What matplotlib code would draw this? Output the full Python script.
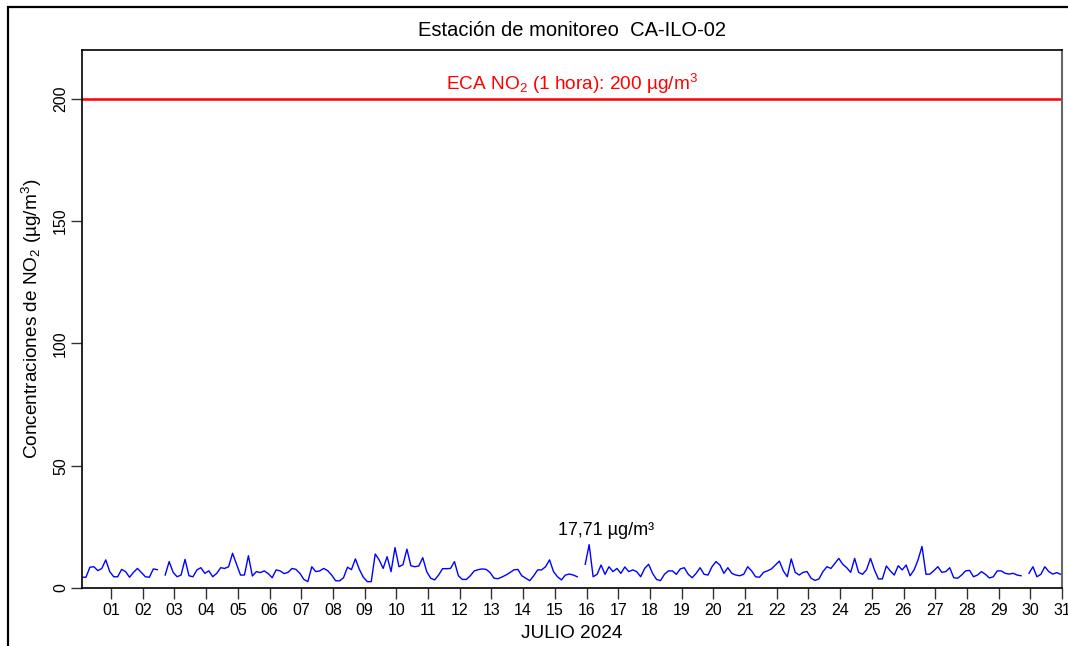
import numpy as np
import matplotlib
matplotlib.use("Agg")
import matplotlib.pyplot as plt
import matplotlib.transforms as mtransforms
from matplotlib.patches import Rectangle

plt.rcParams['font.family'] = ['Liberation Sans', 'DejaVu Sans']
plt.rcParams['mathtext.fontset'] = 'custom'
plt.rcParams['mathtext.rm'] = 'Liberation Sans'
plt.rcParams['mathtext.it'] = 'Liberation Sans:italic'
plt.rcParams['mathtext.bf'] = 'Liberation Sans:bold'

# ---- data: NO2 concentrations (ug/m3), 3-hourly readings, July 2024 ----
nan = np.nan
no2 = [
    4.4, 4.4, 8.5, 8.7, 7.1, 8.0, 11.5, 6.7,
    4.6, 4.6, 7.6, 6.7, 4.4, 6.4, 8.0, 6.3,
    4.6, 4.4, 7.8, 7.5, nan, 5.3, 10.8, 6.4,
    4.6, 5.3, 11.7, 5.0, 4.6, 7.4, 8.3, 6.0,
    7.0, 4.6, 6.0, 8.3, 8.0, 8.7, 14.2, 9.7,
    5.3, 5.3, 13.2, 4.9, 6.7, 6.3, 7.0, 5.9,
    4.2, 7.4, 7.0, 5.9, 6.4, 8.0, 7.6, 6.0,
    3.5, 2.6, 8.7, 6.7, 7.0, 8.0, 7.1, 5.3,
    3.0, 2.9, 4.2, 8.5, 7.5, 11.9, 7.6, 4.4,
    2.6, 2.6, 13.9, 11.5, 8.0, 12.8, 6.7, 16.5,
    8.7, 9.5, 15.9, 9.1, 8.7, 9.0, 12.4, 6.7,
    4.0, 3.3, 5.3, 7.9, 7.9, 8.0, 10.8, 5.0,
    3.5, 3.5, 5.0, 7.0, 7.5, 7.8, 7.6, 6.3,
    4.0, 3.8, 4.5, 5.3, 6.3, 7.4, 7.6, 5.0,
    4.0, 3.0, 5.0, 7.4, 7.4, 8.7, 11.5, 6.7,
    4.6, 3.3, 5.3, 5.7, 5.3, 4.6, nan, 9.7,
    17.71, 4.6, 5.6, 9.4, 5.6, 8.7, 6.7, 8.0,
    6.0, 8.6, 6.7, 7.4, 6.7, 4.6, 8.0, 9.7,
    6.0, 3.5, 3.0, 5.6, 7.0, 7.0, 5.6, 7.8,
    8.3, 5.6, 4.2, 6.0, 8.3, 5.6, 5.3, 8.7,
    10.8, 9.4, 6.0, 8.3, 6.0, 5.3, 5.0, 5.6,
    8.7, 7.0, 4.6, 4.4, 6.4, 7.0, 7.8, 9.4,
    11.0, 7.0, 4.6, 11.9, 6.4, 5.3, 6.4, 6.7,
    4.0, 3.1, 3.7, 6.7, 8.7, 8.0, 10.0, 12.1,
    9.7, 8.3, 6.4, 12.1, 6.4, 5.6, 7.5, 12.1,
    7.4, 3.7, 3.7, 9.0, 7.0, 5.3, 9.1, 7.4,
    9.4, 5.0, 7.4, 11.5, 17.0, 5.6, 5.7, 7.1,
    8.7, 6.4, 6.7, 8.3, 4.2, 4.0, 5.3, 7.0,
    7.2, 4.6, 5.3, 6.7, 5.6, 4.1, 4.6, 7.0,
    7.0, 6.0, 5.7, 6.0, 5.3, 5.0, nan, 6.0,
    8.7, 4.6, 5.6, 8.7, 6.7, 5.7, 6.3, 5.6,
]
hours = np.arange(2, 2 + 3 * len(no2), 3)          # hour of month for each reading
days = list(range(1, 32))
day_labels = [f"{d:02d}" for d in days]
eca_limit = 200
y_ticks = [0, 50, 100, 150, 200]

title = "Estación de monitoreo  CA-ILO-02"
xlabel = "JULIO 2024"
ylabel = r"Concentraciones de NO$_2$ (µg/m$^3$)"
eca_label = r"ECA NO$_2$ (1 hora): 200 µg/m$^3$"

W, H = 1068, 646
fig = plt.figure(figsize=(W / 100, H / 100), dpi=100)
ax = fig.add_axes([82 / W, 1 - 588 / H, 980 / W, 538 / H])

ax.plot(hours, no2, color='blue', lw=1.0)
ax.axhline(eca_limit, color='red', lw=1.8)
ax.text(0.5, eca_limit + 1, eca_label,
        transform=mtransforms.blended_transform_factory(ax.transAxes, ax.transData),
        ha='center', va='bottom', color='red', fontsize=13.7)

no2_arr = np.array(no2, dtype=float)
imax = int(np.nanargmax(no2_arr))
ax.annotate(f"{no2_arr[imax]:.2f}".replace('.', ',') + " µg/m³",
            xy=(hours[imax], no2_arr[imax]), xytext=(12, 4), textcoords='offset points',
            ha='center', va='bottom', fontsize=13)

ax.set_xlim(2, 744)
ax.set_ylim(0, 220)
ax.set_xticks([24 * d for d in days])
ax.set_xticklabels(day_labels)
ax.set_yticks(y_ticks)
ax.set_yticklabels([str(v) for v in y_ticks], rotation=90, va='center')
ax.tick_params(axis='both', direction='out', length=8, width=1.0, colors='#333333',
               labelcolor='black', labelsize=11.5)
ax.tick_params(axis='x', pad=3)
ax.tick_params(axis='y', pad=2)
for s in ['left', 'bottom', 'top']:
    ax.spines[s].set_color('black')
    ax.spines[s].set_linewidth(1.2)
ax.spines['right'].set_color('#666666')
ax.spines['right'].set_linewidth(1.5)

fig.text(572 / W, 1 - 30 / H, title, ha='center', va='center', fontsize=14.5)
fig.text(572 / W, 1 - 633 / H, xlabel, ha='center', va='center', fontsize=13.7)
fig.text(32 / W, 1 - 319 / H, ylabel, ha='center', va='center', rotation=90, fontsize=13.7)

fig.add_artist(Rectangle((8 / W, -0.1), 1.2, 1 - 7 / H + 0.1, transform=fig.transFigure,
                         fill=False, edgecolor='black', lw=1.6, clip_on=False))

fig.savefig("out.png", dpi=100)
